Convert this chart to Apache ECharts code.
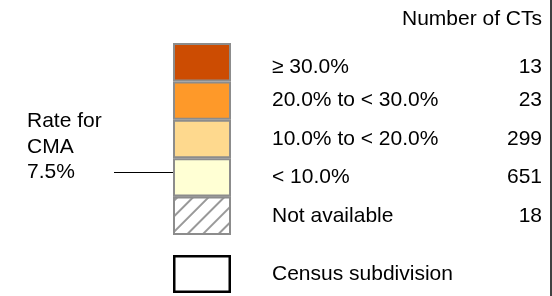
<!DOCTYPE html>
<html>
<head>
<meta charset="utf-8">
<script src="https://cdn.jsdelivr.net/npm/echarts@6/dist/echarts.min.js"></script>
<style>
  html, body { margin: 0; padding: 0; background: #fff; }
  #chart { width: 552px; height: 296px; }
</style>
</head>
<body>
<div id="chart"></div>
<script>
// legend classes, top to bottom
var classLabels = ["≥ 30.0%", "20.0% to < 30.0%", "10.0% to < 20.0%", "< 10.0%", "Not available"];
var classCounts = ["13", "23", "299", "651", "18"];
var classColors = ["#cc4c02", "#fe9929", "#fed98e", "#ffffd4", "#ffffff"];
var boundaryLabel = ["Census subdivision"];
var countTitle = "Number of CTs";
var cmaRate = "7.5%";

var font = "'Liberation Sans', Arial, sans-serif";
var fs = 21;

var chart = echarts.init(document.getElementById("chart"));

var classData = classLabels.map(function (c, i) {
  var item = { value: 1, itemStyle: { color: classColors[i] } };
  if (c === "Not available") {
    // hatched box
    item.itemStyle.decal = {
      symbol: "rect",
      symbolSize: 1,
      color: "#999",
      backgroundColor: "#fff",
      dashArrayX: [1, 0],
      dashArrayY: [1.5, 9],
      rotation: -Math.PI / 4
    };
  }
  return item;
});

chart.setOption({
  animation: false,
  grid: [
    { left: 173, width: 58, top: 43, height: 192 },
    { left: 173, width: 58, top: 255, height: 38 }
  ],
  xAxis: [
    { gridIndex: 0, type: "value", min: 0, max: 1, show: false },
    { gridIndex: 1, type: "value", min: 0, max: 1, show: false }
  ],
  yAxis: [
    {
      gridIndex: 0,
      type: "category",
      data: classLabels,
      inverse: true,
      position: "right",
      axisLine: { show: false },
      axisTick: { show: false },
      axisLabel: {
        margin: 41,
        color: "#000",
        fontFamily: font,
        fontSize: fs,
        formatter: function (v, i) {
          return i === 0 ? "{a|" + v + "}" : v;
        },
        rich: { a: { padding: [10, 0, 0, 0], fontFamily: font, fontSize: fs, color: "#000" } }
      }
    },
    {
      gridIndex: 0,
      type: "category",
      data: classCounts,
      inverse: true,
      position: "right",
      offset: 0,
      axisLine: { show: false },
      axisTick: { show: false },
      axisLabel: {
        margin: 311,
        align: "right",
        color: "#000",
        fontFamily: font,
        fontSize: fs,
        formatter: function (v, i) {
          return i === 0 ? "{a|" + v + "}" : v;
        },
        rich: { a: { padding: [10, 0, 0, 0], fontFamily: font, fontSize: fs, color: "#000" } }
      }
    },
    {
      gridIndex: 1,
      type: "category",
      data: boundaryLabel,
      position: "right",
      axisLine: { show: false },
      axisTick: { show: false },
      axisLabel: { margin: 41, color: "#000", fontFamily: font, fontSize: fs, padding: [3, 0, 0, 0] }
    }
  ],
  series: [
    {
      type: "bar",
      xAxisIndex: 0,
      yAxisIndex: 0,
      barWidth: "100%",
      itemStyle: { borderColor: "#8c8c8c", borderWidth: 2 },
      data: classData
    },
    {
      type: "bar",
      xAxisIndex: 1,
      yAxisIndex: 2,
      barWidth: "100%",
      itemStyle: { color: "#fff", borderColor: "#000", borderWidth: 2.5 },
      data: [1]
    }
  ],
  graphic: [
    {
      type: "text",
      x: 542, y: 19,
      style: { text: countTitle, align: "right", verticalAlign: "middle", font: fs + "px " + font, fill: "#000" }
    },
    {
      type: "text",
      x: 27, y: 147,
      style: { text: "Rate for\nCMA\n" + cmaRate, align: "left", verticalAlign: "middle", lineHeight: 25.5, font: fs + "px " + font, fill: "#000" }
    },
    {
      type: "line",
      shape: { x1: 114, y1: 172.5, x2: 173, y2: 172.5 },
      style: { stroke: "#000", lineWidth: 1 }
    },
    {
      type: "line",
      shape: { x1: 551, y1: 0, x2: 551, y2: 296 },
      style: { stroke: "#000", lineWidth: 1.5 }
    }
  ]
});
</script>
</body>
</html>
